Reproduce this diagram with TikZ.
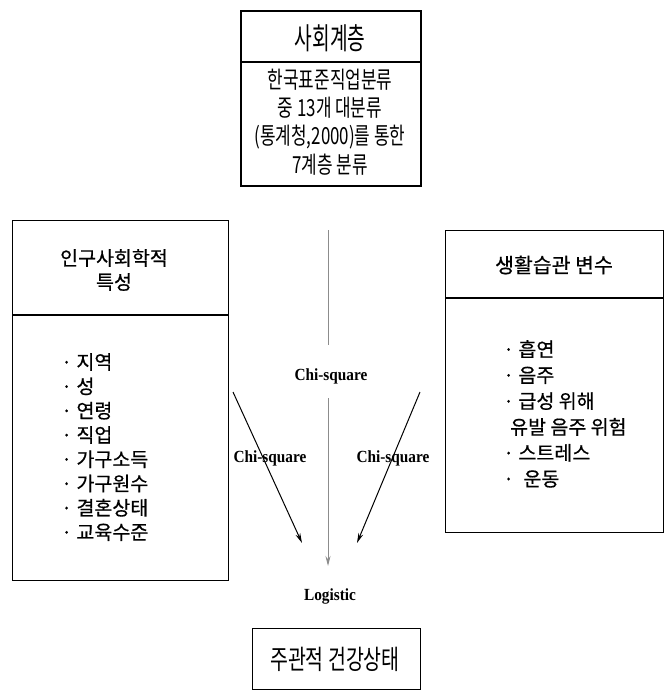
\documentclass[tikz,border=0pt]{standalone}
\usepackage{fontspec}
\usetikzlibrary{arrows.meta}
\setmainfont{Liberation Serif}
\newfontfamily\lab[FakeStretch=0.9]{Liberation Serif}
\newfontfamily\kr[FakeBold=0.6]{Noto Sans CJK KR}
\newfontfamily\krc[FakeStretch=0.72]{Noto Sans CJK KR}
\newfontfamily\krt[FakeStretch=0.64]{Noto Sans CJK KR}
\tikzset{
  box/.style={draw, line width=1.1pt, inner sep=0pt, anchor=north west},
  topbox/.style={draw, line width=1.6pt, inner sep=0pt, anchor=north west},
  lbl/.style={font=\lab\bfseries\fontsize{17}{19}\selectfont, inner sep=1pt},
  arr/.style={line width=1pt, -{Stealth[length=10pt,width=5pt]}},
  carr/.style={line width=1pt, draw=black!45, -{Stealth[length=10pt,width=5pt,fill=black!70]}},
}
\begin{document}
\begin{tikzpicture}[x=1pt,y=-1pt]
\useasboundingbox (0,0) rectangle (668,691);
% top box
\node[topbox, minimum width=180pt, minimum height=175pt] (top) at (240,10) {};
\draw[line width=1.4pt] (top.west |- 0,62) coordinate (tdl) -- (top.east |- 0,62) coordinate (tdr);
\node[font=\krt\fontsize{30}{32}\selectfont] (toptitle) at (330,38) {사회계층};
\node[font=\krc\fontsize{23.5}{28.3}\selectfont, align=center] (topbody) at (330,122) {한국표준직업분류\\중 13개 대분류\\(통계청,2000)를 통한\\7계층 분류};
% left box
\node[box, minimum width=216pt, minimum height=360pt] (lbox) at (12,220) {};
\draw[line width=1.1pt] (lbox.west |- 0,315) -- (lbox.east |- 0,315);
\node[font=\kr\fontsize{19.5}{24}\selectfont, align=center] (lhead) at (114,270) {인구사회학적\\특성};
\node[font=\kr\fontsize{19.5}{24.3}\selectfont, align=left, anchor=north west, inner sep=0pt] (litems) at (61,353) {· 지역\\· 성\\· 연령\\· 직업\\· 가구소득\\· 가구원수\\· 결혼상태\\· 교육수준};
% right box
\node[box, minimum width=218pt, minimum height=302pt] (rbox) at (445,230) {};
\draw[line width=1.1pt] (rbox.west |- 0,298) -- (rbox.east |- 0,298);
\node[font=\kr\fontsize{20.5}{24}\selectfont] (rhead) at (554,265) {생활습관 변수};
\node[font=\kr\fontsize{19.5}{25.9}\selectfont, align=left, anchor=north west, inner sep=0pt] (ritems) at (503,340) {· 흡연\\· 음주\\· 급성 위해\\\hspace*{7pt}유발 음주 위험\\· 스트레스\\·\hspace*{5pt} 운동};
% bottom box
\node[box, minimum width=168pt, minimum height=61pt] (bbox) at (252,628) {};
\node[font=\krc\fontsize{27}{30}\selectfont] (btext) at (335,659) {주관적 건강상태};
% labels
\node[lbl] (chic) at (331,376) {Chi-square};
\node[lbl] (chil) at (270,458) {Chi-square};
\node[lbl] (chir) at (393,458) {Chi-square};
\node[lbl] (logi) at (330,596) {Logistic};
% connectors
\coordinate (c0) at (328,230);
\coordinate (c1) at (328,345);
\coordinate (c2) at (328,398);
\coordinate (c3) at (328,566);
\draw[line width=1pt, draw=black!45] (c0) -- (c1);
\draw[carr] (c2) -- (c3);
\coordinate (la) at (233,392);
\coordinate (lb) at (302,543);
\coordinate (ra) at (420,392);
\coordinate (rb) at (357,543);
\draw[arr] (la) -- (lb);
\draw[arr] (ra) -- (rb);
\end{tikzpicture}
\end{document}
